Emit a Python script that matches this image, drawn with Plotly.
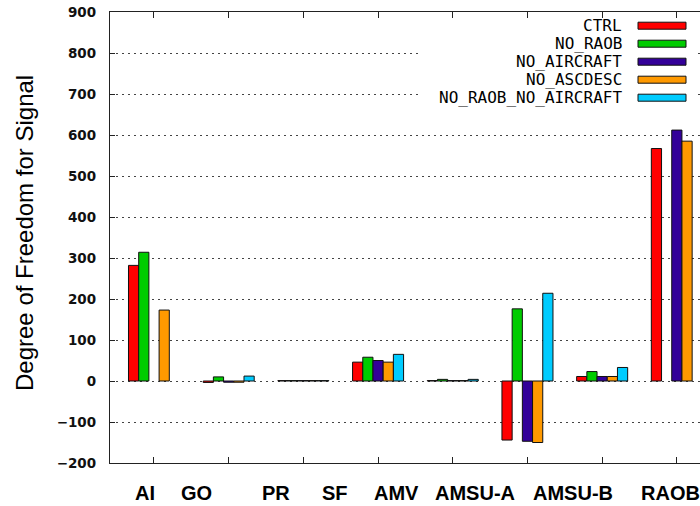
import plotly.graph_objects as go

# ---------------- data ----------------
groups = ["AI", "GO", "PR", "SF", "AMV", "AMSU-A", "AMSU-B", "RAOB"]
# horizontal positions of the category labels (in group-index units, as placed in the original)
label_x = [-0.12, 0.57, 1.63, 2.42, 3.24, 4.30, 5.61, 6.92]

series_names = ["CTRL", "NO_RAOB", "NO_AIRCRAFT", "NO_ASCDESC", "NO_RAOB_NO_AIRCRAFT"]
ctrl = [282, -3.5, 1, 46, 1, -144, 11, 567]
no_raob = [314, 10, 1, 58, 4, 176, 23, None]
no_aircraft = [None, -3, 1, 50, 1, -147, 11, 612]
no_ascdesc = [173, -3, 1, 46, 1, -150, 11, 585]
no_raob_no_aircraft = [None, 12, 1, 65, 4, 214, 33, None]
series_values = [ctrl, no_raob, no_aircraft, no_ascdesc, no_raob_no_aircraft]
series_colors = ["#ff0000", "#00cc00", "#330099", "#ff9900", "#00ccff"]

y_ticks = list(range(-200, 901, 100))

# ---------------- layout geometry ----------------
W, H = 700, 506
L, R, T, B = 110, 0, 12, 43
PW, PH = W - L - R, H - T - B


def px_x(px):
    return (px - L) / PW


def px_y(py):
    return (H - B - py) / PH


xs = list(range(len(groups)))

fig = go.Figure()
for name, vals, col in zip(series_names, series_values, series_colors):
    fig.add_trace(go.Bar(
        x=xs, y=vals, name=name,
        marker=dict(color=col, line=dict(color="#111111", width=1)),
        showlegend=False,
    ))

fig.update_layout(
    width=W, height=H,
    margin=dict(l=L, r=R, t=T, b=B, pad=0),
    paper_bgcolor="white", plot_bgcolor="white",
    barmode="group", bargap=0.317, bargroupgap=0,
    xaxis=dict(
        range=[-0.589, 7.31],
        tickmode="array", tickvals=xs, ticktext=["" for _ in xs],
        ticks="inside", ticklen=6, tickcolor="#222", tickwidth=1,
        showline=True, linecolor="#222", linewidth=1.3, mirror="allticks",
        showgrid=False, zeroline=False,
    ),
    yaxis=dict(
        range=[-200, 900],
        tickmode="array", tickvals=y_ticks,
        ticks="inside", ticklen=5, tickcolor="#222", tickwidth=1,
        showline=True, linecolor="#222", linewidth=1.3, mirror=False,
        showgrid=True, gridcolor="#444444", gridwidth=1, griddash="2px,4px",
        zeroline=False,
        tickfont=dict(family="DejaVu Sans", size=13.5, color="#111", weight="bold"),
        ticklabelstandoff=10,
    ),
)

# y-axis title
fig.add_annotation(
    text="Degree of Freedom for Signal", xref="paper", yref="paper",
    x=px_x(24), y=px_y(233), textangle=-90, showarrow=False,
    xanchor="center", yanchor="middle",
    font=dict(family="Liberation Sans", size=24, color="black"),
)

# category labels
for lab, lx in zip(groups, label_x):
    fig.add_annotation(
        text=lab, xref="x", yref="paper", x=lx, y=px_y(492.5),
        showarrow=False, xanchor="center", yanchor="middle",
        font=dict(family="Liberation Sans", size=20, color="black", weight="bold"),
    )

# key (text right-aligned, sample box on the right, opaque background)
fig.add_shape(type="rect", xref="paper", yref="paper",
              x0=px_x(421), x1=px_x(696), y0=px_y(106), y1=px_y(19),
              fillcolor="white", line=dict(width=0), layer="above")
row_y = [25.7 + 18 * i for i in range(len(series_names))]
for name, col, yc in zip(series_names, series_colors, row_y):
    fig.add_annotation(
        text=name, xref="paper", yref="paper", x=px_x(623), y=px_y(yc),
        showarrow=False, xanchor="right", yanchor="middle", borderpad=0,
        font=dict(family="DejaVu Sans Mono", size=16, color="black"),
    )
    fig.add_shape(type="rect", xref="paper", yref="paper",
                  x0=px_x(638), x1=px_x(686), y0=px_y(yc + 3.5), y1=px_y(yc - 3.5),
                  fillcolor=col, line=dict(color="#111", width=1), layer="above")

fig.write_html("out.html")
